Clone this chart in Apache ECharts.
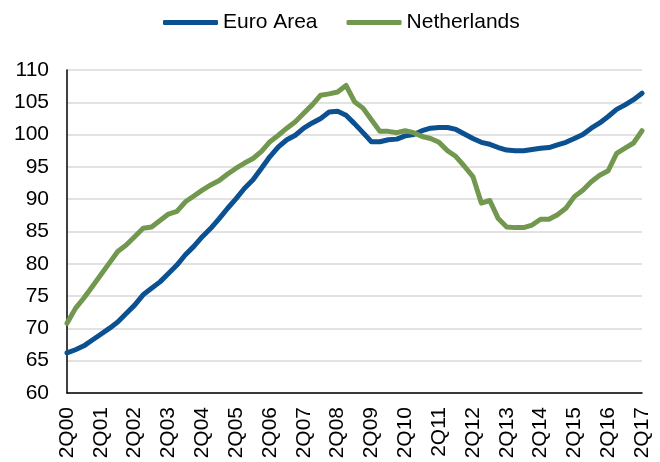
<!DOCTYPE html>
<html>
<head>
<meta charset="utf-8">
<script src="https://cdn.jsdelivr.net/npm/echarts@6/dist/echarts.min.js"></script>
<style>
  html, body { margin: 0; padding: 0; background: #fff; }
  #chart { width: 660px; height: 462px; }
</style>
</head>
<body>
<div id="chart"></div>
<script>
// quarters 2Q00 .. 2Q17
const quarters = []
for (let y = 0; y <= 17; y++) {
  for (let q = 1; q <= 4; q++) {
    const yy = String(y).padStart(2, '0')
    if (y === 0 && q < 2) continue
    if (y === 17 && q > 2) continue
    quarters.push(q + 'Q' + yy)
  }
}

const euroArea = [
  66.2, 66.7, 67.3, 68.2, 69.1, 70.0, 71.0, 72.3, 73.6, 75.2,
  76.2, 77.2, 78.5, 79.8, 81.4, 82.7, 84.2, 85.5, 87.0, 88.6,
  90.1, 91.7, 93.0, 94.8, 96.6, 98.1, 99.2, 99.9, 101.0, 101.8,
  102.5, 103.5, 103.6, 103.0, 101.7, 100.3, 98.9, 98.9, 99.2, 99.3,
  99.8, 100.0, 100.6, 101.0, 101.1, 101.1, 100.8, 100.1, 99.4, 98.8,
  98.5, 98.0, 97.6, 97.5, 97.5, 97.7, 97.9, 98.0, 98.4, 98.8,
  99.4, 100.0, 101.0, 101.8, 102.8, 103.9, 104.6, 105.4, 106.4
]

const netherlands = [
  70.8, 73.1, 74.7, 76.5, 78.3, 80.1, 81.9, 82.9, 84.2, 85.5,
  85.7, 86.7, 87.7, 88.1, 89.6, 90.5, 91.4, 92.2, 92.9, 93.9,
  94.8, 95.6, 96.3, 97.4, 98.9, 99.9, 101.0, 102.0, 103.3, 104.6,
  106.1, 106.3, 106.6, 107.6, 105.1, 104.1, 102.3, 100.5, 100.5, 100.3,
  100.6, 100.3, 99.7, 99.4, 98.8, 97.5, 96.6, 95.1, 93.5, 89.4,
  89.8, 87.0, 85.7, 85.6, 85.6, 86.0, 86.9, 86.9, 87.6, 88.6,
  90.4, 91.4, 92.7, 93.7, 94.4, 97.1, 97.9, 98.7, 100.6
]

const font = '"Liberation Sans", Arial, sans-serif'

const chart = echarts.init(document.getElementById('chart'))
chart.setOption({
  animation: false,
  legend: {
    top: 7,
    left: 158,
    itemWidth: 55,
    itemHeight: 5,
    itemGap: 29,
    textStyle: { fontFamily: font, fontSize: 21, color: '#000' },
    data: [
      { name: 'Euro Area', icon: 'roundRect' },
      { name: 'Netherlands', icon: 'roundRect' }
    ]
  },
  grid: { left: 67, right: 18, top: 70, bottom: 69 },
  xAxis: {
    type: 'category',
    data: quarters,
    boundaryGap: false,
    axisLine: { lineStyle: { color: '#000', width: 1.5 } },
    axisTick: { show: false },
    axisLabel: {
      interval: 3,
      rotate: 90,
      margin: 14,
      fontFamily: font,
      fontSize: 21,
      color: '#000'
    }
  },
  yAxis: {
    type: 'value',
    min: 60,
    max: 110,
    interval: 5,
    axisLine: { show: true, lineStyle: { color: '#000', width: 1.5 } },
    axisTick: { show: false },
    axisLabel: { margin: 18, fontFamily: font, fontSize: 21, color: '#000' },
    splitLine: { lineStyle: { color: '#d9d9d9', width: 1.5 } }
  },
  series: [
    {
      name: 'Euro Area',
      type: 'line',
      data: euroArea,
      symbol: 'none',
      color: '#0b5091',
      lineStyle: { width: 5, cap: 'round', join: 'round' }
    },
    {
      name: 'Netherlands',
      type: 'line',
      data: netherlands,
      symbol: 'none',
      color: '#72984f',
      lineStyle: { width: 5, cap: 'round', join: 'round' }
    }
  ]
})
</script>
</body>
</html>
